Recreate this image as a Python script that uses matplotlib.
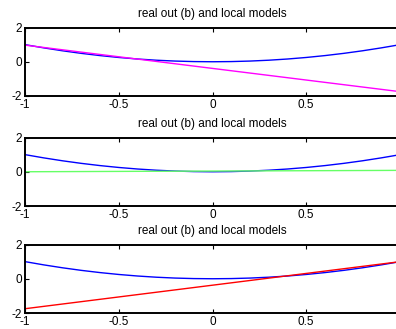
import matplotlib
matplotlib.use("Agg")
import matplotlib.pyplot as plt

plt.rcParams["font.family"] = ["Liberation Sans", "DejaVu Sans"]

# real output (b)
x_real = [-1.0, -0.9, -0.8, -0.7, -0.6, -0.5, -0.4, -0.3, -0.2, -0.1,
          0.0, 0.1, 0.2, 0.3, 0.4, 0.5, 0.6, 0.7, 0.8, 0.9, 0.98]
y_real = [1.0, 0.81, 0.64, 0.49, 0.36, 0.25, 0.16, 0.09, 0.04, 0.01,
          0.0, 0.01, 0.04, 0.09, 0.16, 0.25, 0.36, 0.49, 0.64, 0.81, 0.96]

# local models (straight lines, endpoints)
x_local = [-1.0, 0.98]
y_local1 = [0.97, -1.72]
y_local2 = [0.0, 0.08]
y_local3 = [-1.75, 0.97]

local_models = [y_local1, y_local2, y_local3]
local_colors = ["#ff00ff", "#66ff66", "#ff0000"]

xticks = [-1, -0.5, 0, 0.5]
xticklabels = ["-1", "-0.5", "0", "0.5"]
yticks = [-2, 0, 2]
yticklabels = ["-2", "0", "2"]

fig = plt.figure(figsize=(3.96, 3.29), dpi=100)

W, H = 396.0, 329.0
tops = [27.5, 137.5, 244.5]
height = 68.5
left = 25.0
width = 375.0

for top, y_loc, col in zip(tops, local_models, local_colors):
    ax = fig.add_axes([left / W, 1 - (top + height) / H, width / W, height / H])
    ax.plot(x_real, y_real, color="#0000ff", lw=1.0)
    ax.plot(x_local, y_loc, color=col, lw=1.0)
    ax.set_xlim(-1, 1)
    ax.set_ylim(-2, 2)
    ax.set_xticks(xticks)
    ax.set_xticklabels(xticklabels)
    ax.set_yticks(yticks)
    ax.set_yticklabels(yticklabels)
    ax.tick_params(direction="in", top=True, right=True, length=3,
                   width=0.8, labelsize=8.5, pad=2)
    for s in ax.spines.values():
        s.set_linewidth(1.4)
    ax.set_title("real out (b) and local models", fontsize=8.5, pad=7.5)

fig.savefig("out.png", dpi=100)
